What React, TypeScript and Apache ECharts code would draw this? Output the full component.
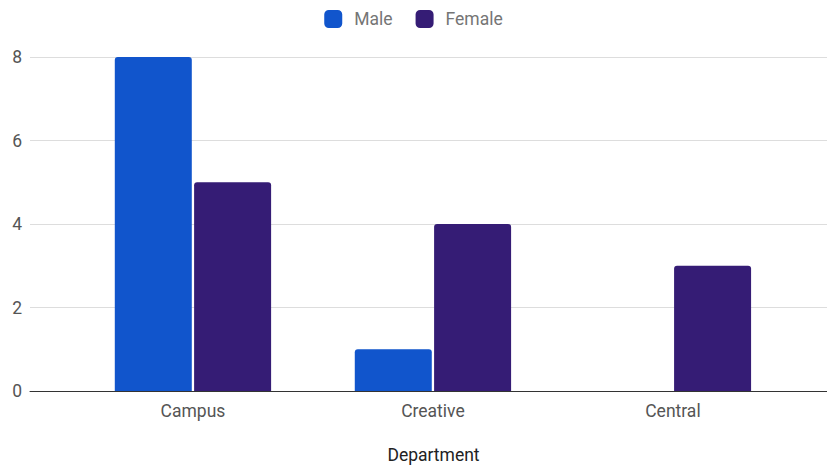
import React, { useEffect, useRef } from "react";
import * as echarts from "echarts";

const categories = ["Campus", "Creative", "Central"];
const maleCounts = [8, 1, 0];
const femaleCounts = [5, 4, 3];
const yTicks = [0, 2, 4, 6, 8];

export default function App() {
  const ref = useRef<HTMLDivElement>(null);

  useEffect(() => {
    document.body.style.margin = "0";
    if (!ref.current) return;
    const chart = echarts.init(ref.current, null, { renderer: "svg" });
    const font = "Roboto, 'Noto Sans', sans-serif";
    chart.setOption({
      animation: false,
      textStyle: { fontFamily: font },
      legend: {
        top: 5,
        left: "center",
        itemWidth: 18,
        itemHeight: 18,
        itemGap: 23,
        icon: "roundRect",
        textStyle: { fontSize: 17.5, color: "#757575", fontFamily: font, padding: [0, 0, 0, 7] },
        data: ["Male", "Female"],
      },
      grid: { left: 30, right: 0, top: 57, bottom: 76, outerBoundsMode: "none" },
      xAxis: {
        type: "value",
        min: -0.679,
        max: 2.642,
        name: "Department",
        nameLocation: "middle",
        nameGap: 55,
        nameTextStyle: { fontSize: 17.5, color: "#222", fontFamily: font, padding: [0, 0, 0, 10] },
        axisLine: { show: true, lineStyle: { color: "#333", width: 1 } },
        axisTick: { show: false },
        splitLine: { show: false },
        axisLabel: {
          customValues: [0, 1, 2],
          formatter: (v: number) => categories[Math.round(v)] ?? "",
          fontSize: 17.5,
          color: "#555",
          margin: 11,
          fontFamily: font,
        },
      },
      yAxis: {
        type: "value",
        min: yTicks[0],
        max: yTicks[yTicks.length - 1],
        interval: 2,
        axisLine: { show: false },
        axisTick: { show: false },
        axisLabel: { fontSize: 17.5, color: "#555", margin: 8, fontFamily: font },
        splitLine: { lineStyle: { color: "#ddd", width: 1 } },
      },
      series: [
        {
          name: "Male",
          type: "bar",
          barWidth: 77,
          barGap: "3%",
          itemStyle: { color: "#1155cc", borderRadius: [3, 3, 0, 0] },
          data: maleCounts.map((v, i) => [i, v]),
        },
        {
          name: "Female",
          type: "bar",
          barWidth: 77,
          barGap: "3%",
          itemStyle: { color: "#351c75", borderRadius: [3, 3, 0, 0] },
          data: femaleCounts.map((v, i) => [i, v]),
        },
      ],
    });
    return () => chart.dispose();
  }, []);

  return <div ref={ref} style={{ width: 827, height: 467 }} />;
}
